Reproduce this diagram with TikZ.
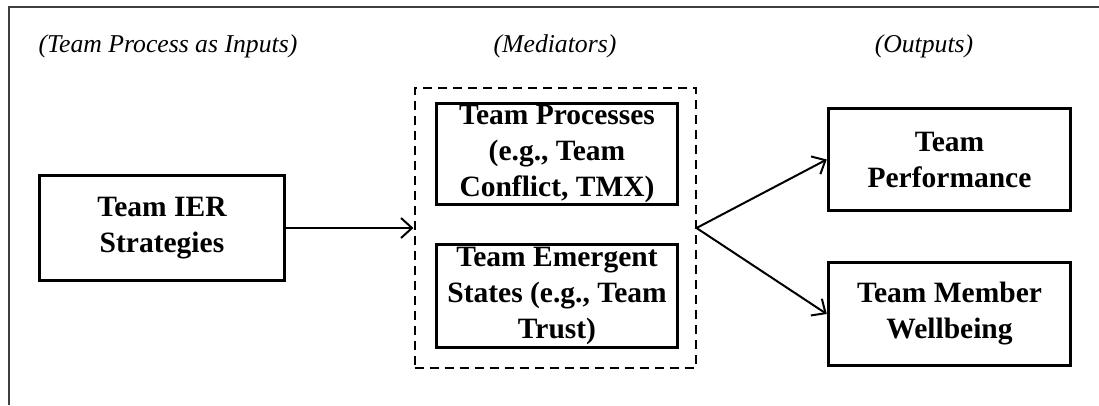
\documentclass[tikz,border=0pt]{standalone}
\usepackage{fontspec}
\setmainfont{Liberation Serif}
\usetikzlibrary{arrows.meta}
\tikzset{
  box/.style={draw=black, line width=3.5pt, rectangle, align=center, inner sep=0pt,
    font=\fontsize{29.5}{36}\selectfont\bfseries},
  medbox/.style={draw=black, line width=2pt, dash pattern=on 9pt off 6pt, rectangle, inner sep=0pt},
  lbl/.style={font=\fontsize{25.7}{30}\selectfont\itshape, inner sep=0pt},
  conn/.style={line width=2pt, -{Straight Barb[length=11pt,width=20pt,line width=2pt]}},
  frame/.style={draw=black!75, line width=2.5pt}
}
\begin{document}
\begin{tikzpicture}[x=1pt,y=-1pt]
\useasboundingbox (0,0) rectangle (1099,405);
\draw[frame] (1099,7) -- (9,7) -- (9,405);

\node[lbl] (lin) at (168,46) {(Team Process as Inputs)};
\node[lbl] (lmed) at (555,46) {(Mediators)};
\node[lbl] (lout) at (924,46) {(Outputs)};

\node[box, minimum width=245pt, minimum height=105pt] (ier) at (162,228) {Team IER\\Strategies};
\node[medbox, minimum width=281pt, minimum height=280pt] (med) at (555,228) {};
\node[box, minimum width=241pt, minimum height=101pt] (proc) at (557,154) {Team Processes\\(e.g., Team\\Conflict, TMX)};
\node[box, minimum width=241pt, minimum height=103pt] (emer) at (557,296) {Team Emergent\\States (e.g., Team\\Trust)};
\node[box, minimum width=242pt, minimum height=102pt] (perf) at (949.5,159.5) {Team\\Performance};
\node[box, minimum width=242pt, minimum height=103pt] (well) at (949.5,314) {Team Member\\Wellbeing};

\draw[conn] (ier.east) -- (med.west);
\coordinate (fan) at (med.east);
\draw[conn] (fan) -- (perf.west);
\draw[conn] (fan) -- (well.west);
\end{tikzpicture}
\end{document}
